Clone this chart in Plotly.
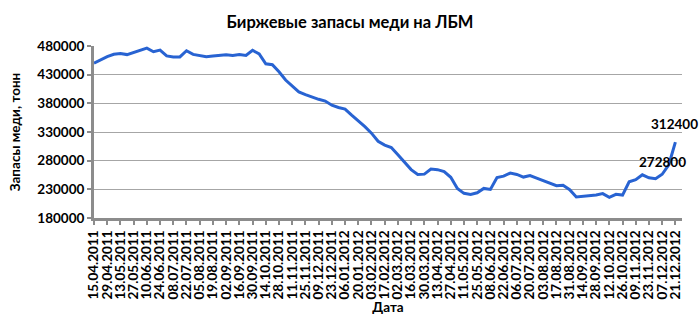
import plotly.graph_objects as go
import pandas as pd

# Weekly categories (LME reporting dates)
dates = pd.date_range("2011-04-15", "2012-12-21", freq="7D").strftime("%d.%m.%Y").tolist()

stocks = [
    450100, 455500, 461600, 465500, 467000, 465000, 468500, 472500, 476300, 470000,
    472800, 462700, 461000, 461000, 471700, 465300, 463600, 461300, 462500, 463600,
    464700, 463600, 465000, 463500, 472500, 466100, 449000, 447400, 435000, 420600,
    409600, 399800, 395200, 391000, 387000, 384000, 376700, 372700, 370000, 359300,
    350000, 339300, 328000, 313800, 307100, 303000, 290200, 276600, 264400, 256000,
    256500, 265300, 264300, 261100, 251000, 231300, 223000, 221200, 224000, 231600,
    229800, 250500, 253000, 258300, 256000, 251400, 254000, 249600, 245000, 241000,
    236400, 237000, 229400, 216700, 217800, 219600, 220200, 222500, 216100, 221300,
    220000, 243200, 246700, 255400, 250200, 248500, 256300, 272800, 312400,
]

tick_labels = [
    "15.04.2011", "29.04.2011", "13.05.2011", "27.05.2011", "10.06.2011", "24.06.2011",
    "08.07.2011", "22.07.2011", "05.08.2011", "19.08.2011", "02.09.2011", "16.09.2011",
    "30.09.2011", "14.10.2011", "28.10.2011", "11.11.2011", "25.11.2011", "09.12.2011",
    "23.12.2011", "06.01.2012", "20.01.2012", "03.02.2012", "17.02.2012", "02.03.2012",
    "16.03.2012", "30.03.2012", "13.04.2012", "27.04.2012", "11.05.2012", "25.05.2012",
    "08.06.2012", "22.06.2012", "06.07.2012", "20.07.2012", "03.08.2012", "17.08.2012",
    "31.08.2012", "14.09.2012", "28.09.2012", "12.10.2012", "26.10.2012", "09.11.2012",
    "23.11.2012", "07.12.2012", "21.12.2012",
]

y_ticks = [180000, 230000, 280000, 330000, 380000, 430000, 480000]

title_text = "Биржевые запасы меди на ЛБМ"
y_title = "Запасы меди, тонн"
x_title = "Дата"

FONT = "Lato"
AXIS_GRAY = "#8c8c8c"
LINE_BLUE = "#2863D2"

fig = go.Figure()
fig.add_trace(go.Scatter(
    x=dates, y=stocks, mode="lines",
    line=dict(color=LINE_BLUE, width=3),
    hoverinfo="skip", showlegend=False,
))

# data labels for the last two points
fig.add_annotation(x=dates[-2], y=stocks[-2], text=f"{stocks[-2]}", showarrow=False,
                   xref="x", yref="y", xshift=-6, yshift=3,
                   font=dict(family=FONT, size=13.5, color="#000000", weight="bold"))
fig.add_annotation(x=dates[-1], y=stocks[-1], text=f"{stocks[-1]}", showarrow=False,
                   xref="x", yref="y", xshift=-1, yshift=18,
                   font=dict(family=FONT, size=13.5, color="#000000", weight="bold"))

fig.update_layout(
    width=700, height=324,
    margin=dict(l=94, r=18, t=46, b=106),
    paper_bgcolor="white", plot_bgcolor="white",
    title=dict(text=title_text, x=0.5, xanchor="center", y=1 - 22 / 324, yanchor="middle",
               font=dict(family=FONT, size=16.5, color="#000000", weight="bold")),
    font=dict(family=FONT, color="#000000"),
)

fig.update_xaxes(
    type="category", range=[0, len(dates)],
    tickmode="array", tickvals=dates[::2], ticktext=tick_labels,
    tickangle=-90, tickfont=dict(family=FONT, size=13.5, color="#000000", weight="bold"),
    showline=True, linecolor=AXIS_GRAY, linewidth=3,
    ticks="outside", ticklen=4, tickwidth=2, tickcolor=AXIS_GRAY,
    showgrid=False, zeroline=False,
    title=dict(text=x_title, standoff=4,
               font=dict(family=FONT, size=13.5, color="#000000", weight="bold")),
)

fig.update_yaxes(
    range=[180000, 480000], tickmode="array", tickvals=y_ticks,
    ticktext=[str(v) for v in y_ticks],
    tickfont=dict(family=FONT, size=13.5, color="#000000", weight="bold"),
    showline=True, linecolor=AXIS_GRAY, linewidth=3,
    ticks="outside", ticklen=4, tickwidth=2, tickcolor=AXIS_GRAY,
    showgrid=True, gridcolor="#a6a6a6", gridwidth=1, zeroline=False,
    title=dict(text=y_title, standoff=14,
               font=dict(family=FONT, size=13.5, color="#000000", weight="bold")),
)

fig.write_html("out.html")
